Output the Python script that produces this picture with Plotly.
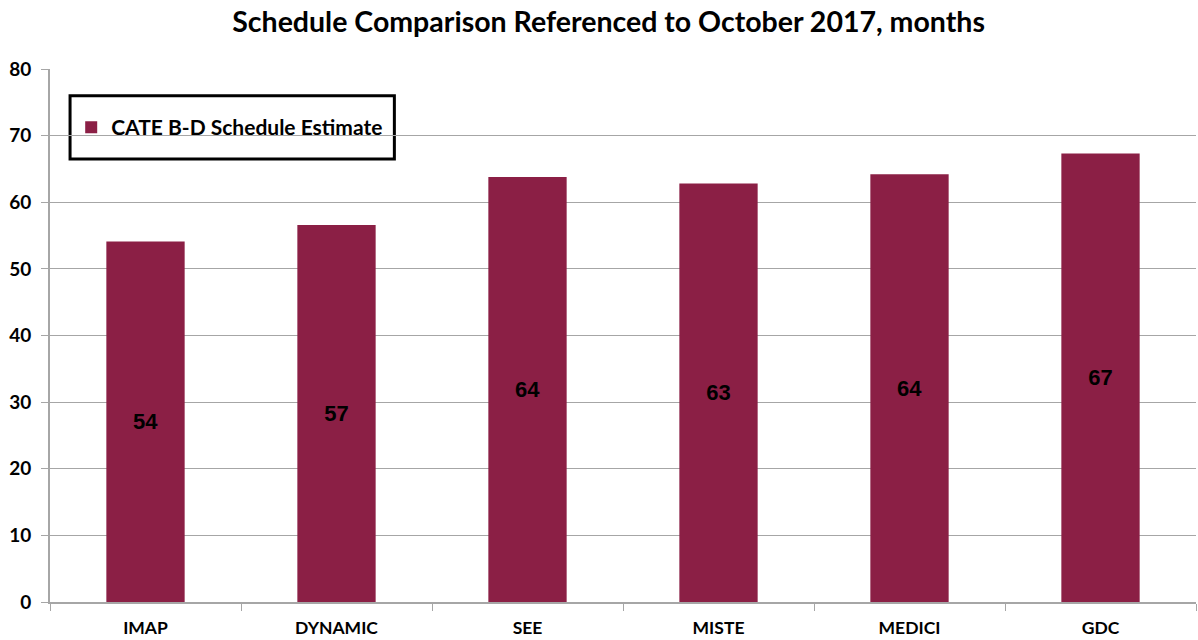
import plotly.graph_objects as go

# Schedule estimate per mission, months referenced to October 2017
missions = ["IMAP", "DYNAMIC", "SEE", "MISTE", "MEDICI", "GDC"]
schedule_months = [54.1, 56.6, 63.8, 62.8, 64.2, 67.3]
series_name = "CATE B-D Schedule Estimate"
y_ticks = [0, 10, 20, 30, 40, 50, 60, 70, 80]

BAR_COLOR = "#8B1F45"
GRID_COLOR = "#A6A6A6"
FONT_MAIN = "Lato, Open Sans, sans-serif"

fig = go.Figure()
fig.add_trace(go.Bar(
    x=missions,
    y=schedule_months,
    name=series_name,
    marker=dict(color=BAR_COLOR, line=dict(width=0)),
    texttemplate="%{y:.0f}",
    textposition="inside",
    insidetextanchor="middle",
    textfont=dict(family="Liberation Sans, Arial, sans-serif", size=22, color="black", weight="bold"),
    showlegend=True,
))

fig.update_layout(
    width=1198,
    height=640,
    margin=dict(l=50, r=2, t=69, b=38),
    paper_bgcolor="white",
    plot_bgcolor="white",
    bargap=0.59,
    title=dict(
        text="<b>Schedule Comparison Referenced to October 2017, months</b>",
        x=0.508, xanchor="center", y=0.965, yanchor="middle",
        font=dict(family=FONT_MAIN, size=28.5, color="black"),
    ),
    legend=dict(
        x=0.0185, y=0.89, xanchor="left", yanchor="middle",
        bgcolor="rgba(0,0,0,0)", borderwidth=0,
        font=dict(family=FONT_MAIN, size=21, color="black", weight="bold"),
        itemwidth=30,
    ),
    xaxis=dict(
        showline=True, linecolor=GRID_COLOR, linewidth=2,
        ticks="outside", tickson="boundaries", ticklen=7, tickcolor=GRID_COLOR,
        ticklabelstandoff=9,
        tickfont=dict(family=FONT_MAIN, size=17.5, color="black", weight="bold"),
        showgrid=False,
    ),
    yaxis=dict(
        range=[0, 80], tickvals=y_ticks,
        showline=True, linecolor=GRID_COLOR, linewidth=2,
        ticks="outside", ticklen=7, tickcolor=GRID_COLOR,
        ticklabelstandoff=6,
        showgrid=True, gridcolor=GRID_COLOR, gridwidth=1,
        zeroline=False,
        tickfont=dict(family=FONT_MAIN, size=19, color="black", weight="bold"),
    ),
    shapes=[dict(
        type="rect", xref="paper", yref="paper",
        x0=0.0175, x1=0.3005, y0=0.831, y1=0.95,
        line=dict(color="black", width=3), fillcolor="white", layer="below",
    )],
)

fig.write_html("out.html")
